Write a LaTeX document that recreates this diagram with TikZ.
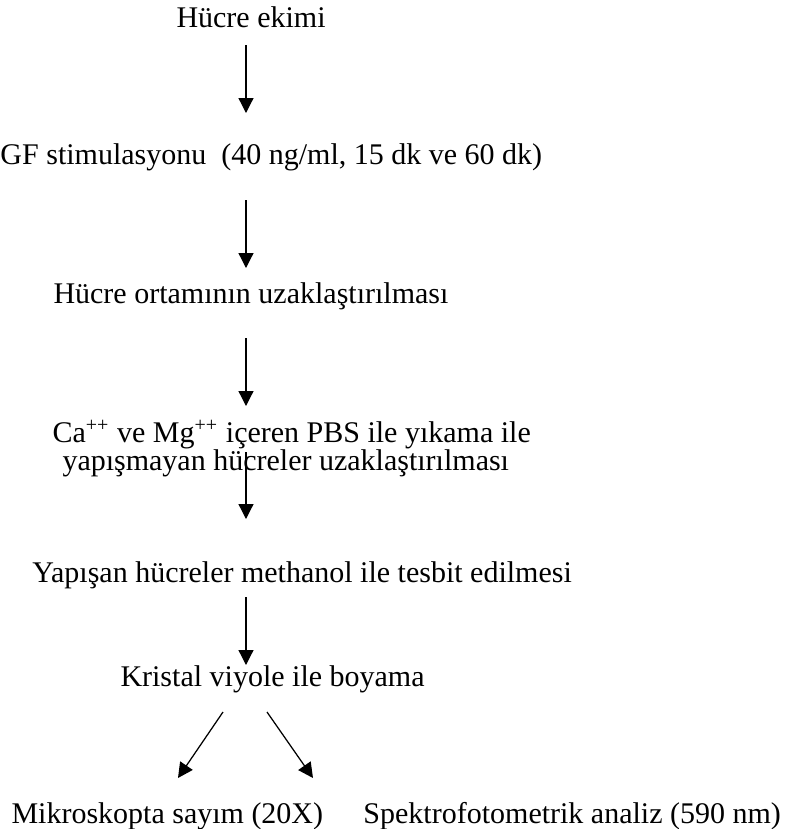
\documentclass[tikz,border=0pt]{standalone}
\usepackage{fontspec}
\setmainfont{Liberation Serif}
\usetikzlibrary{arrows.meta}
\begin{document}
\begin{tikzpicture}[x=0.4pt, y=-0.4pt,
    txt/.style={anchor=base west, inner sep=0pt, font=\fontsize{12}{14}\selectfont},
    flow/.style={line width=0.5pt, -{Triangle[length=6pt,width=6pt]}}]

    % --- Frame ---
    % Same size as the scanned page
    \useasboundingbox (0,0) rectangle (788,829);

    % --- Steps ---
    \node[txt] (ekim) at (176,27) {Hücre ekimi};
    \node[txt] (stim) at (0,164) {GF stimulasyonu\ \ (40 ng/ml, 15 dk ve 60 dk)};
    \node[txt] (ortam) at (53,303) {Hücre ortamının uzaklaştırılması};
    \node[txt] (yikaA) at (52,442) {Ca\textsuperscript{++} ve Mg\textsuperscript{++} içeren PBS ile yıkama ile};
    \node[txt] (yikaB) at (62,470) {yapışmayan hücreler uzaklaştırılması};
    \node[txt] (tesbit) at (32,582) {Yapışan hücreler methanol ile tesbit edilmesi};
    \node[txt] (boya) at (120,686) {Kristal viyole ile boyama};
    \node[txt] (sayim) at (11,823) {Mikroskopta sayım (20X)};
    \node[txt] (analiz) at (363,823) {Spektrofotometrik analiz (590 nm)};

    % --- Arrow ends ---
    % Arrows stand free between the lines of text
    \coordinate (a1s) at (246,45);   \coordinate (a1e) at (246,113);
    \coordinate (a2s) at (246,200);  \coordinate (a2e) at (246,268);
    \coordinate (a3s) at (246,338);  \coordinate (a3e) at (246,406);
    \coordinate (a4s) at (246,452);  \coordinate (a4e) at (246,519);
    \coordinate (a5s) at (246,597);  \coordinate (a5e) at (246,665);
    \coordinate (a6s) at (223,712);  \coordinate (a6e) at (178,778);
    \coordinate (a7s) at (267,712);  \coordinate (a7e) at (313,778);

    % --- Arrows ---
    \draw[flow] (a1s) -- (a1e);
    \draw[flow] (a2s) -- (a2e);
    \draw[flow] (a3s) -- (a3e);
    \draw[flow] (a4s) -- (a4e);
    \draw[flow] (a5s) -- (a5e);
    \draw[flow] (a6s) -- (a6e);
    \draw[flow] (a7s) -- (a7e);

\end{tikzpicture}
\end{document}
